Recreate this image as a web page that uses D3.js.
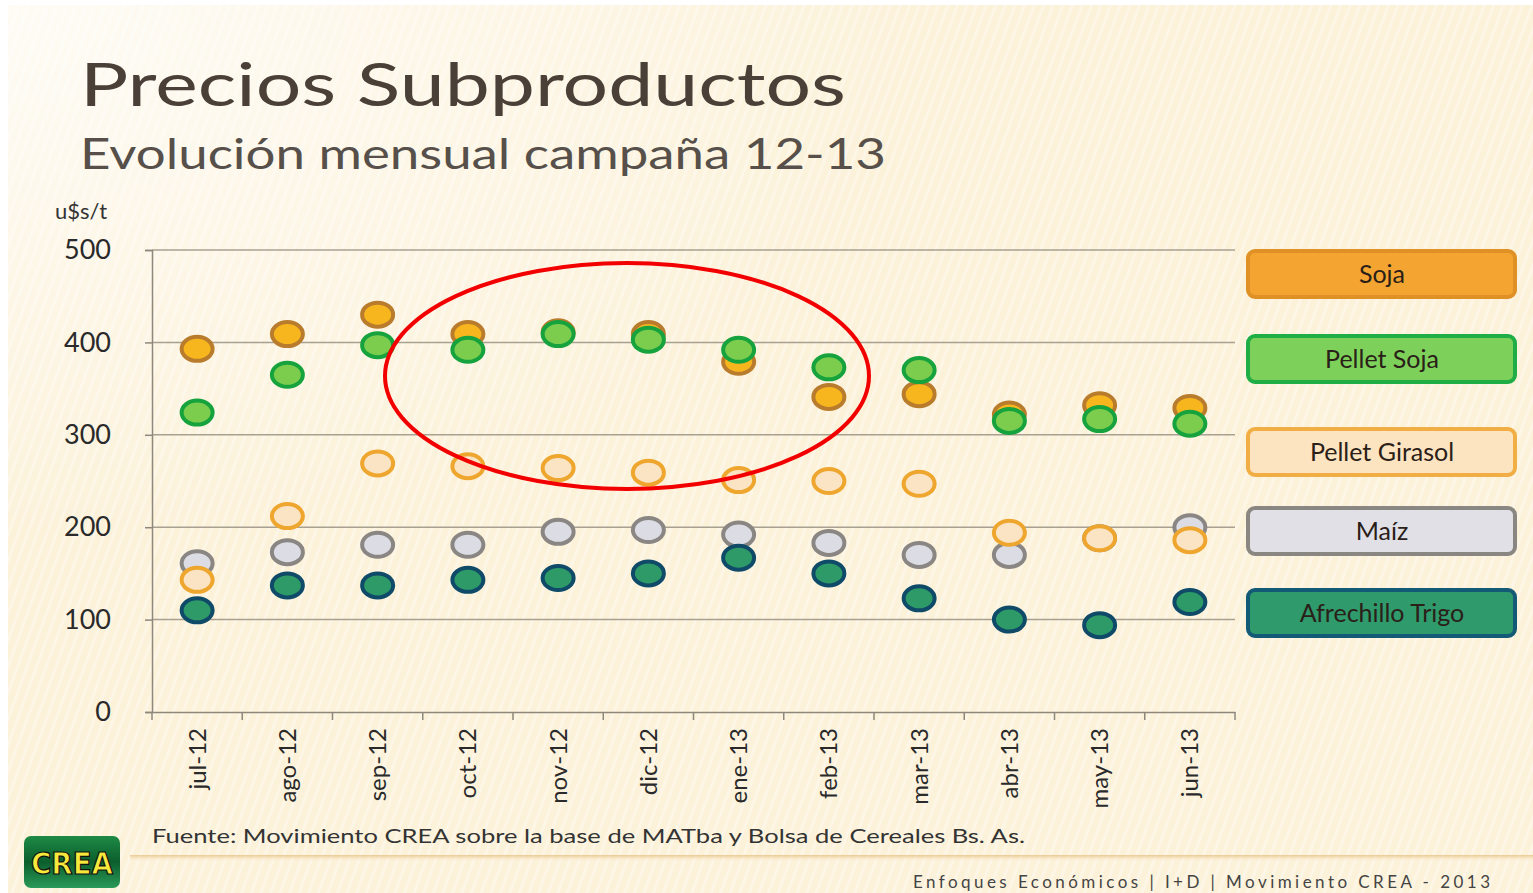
<!DOCTYPE html>
<html><head><meta charset="utf-8">
<script src="https://cdn.jsdelivr.net/npm/d3@7"></script>
<style>html,body{margin:0;padding:0;background:#fff;overflow:hidden}</style>
</head><body>
<script>
const months = ["jul-12","ago-12","sep-12","oct-12","nov-12","dic-12","ene-13","feb-13","mar-13","abr-13","may-13","jun-13"];
const yTicks = [0,100,200,300,400,500];
const seriesNames = ["Soja","Pellet Soja","Pellet Girasol","Maíz","Afrechillo Trigo"];
const soja          = [393,409,430,409,411,409,379,341,344,322,332,329];
const pelletSoja    = [324,365,397,392,409,403,392,373,370,315,317,312];
const pelletGirasol = [143,212,269,266,264,259,251,250,247,194,188,186];
const maiz          = [161,173,181,181,195,197,192,183,170,170,188,200];
const afrechillo    = [110,137,137,143,145,150,167,150,123,100, 94,119];

const W = 1533, H = 893;
const svg = d3.select("body").append("svg").attr("width", W).attr("height", H);
const defs = svg.append("defs");

// background
const pat = defs.append("pattern").attr("id","stripes").attr("patternUnits","userSpaceOnUse")
  .attr("width",9).attr("height",9).attr("patternTransform","rotate(20)");
pat.append("rect").attr("width",9).attr("height",9).attr("fill","#fcf2da");
pat.append("rect").attr("width",3).attr("height",9).attr("fill","#fdf6e6");
svg.append("rect").attr("width",W).attr("height",H).attr("fill","#fff");
svg.append("rect").attr("x",8).attr("y",5).attr("width",W-8).attr("height",H-5).attr("fill","url(#stripes)");
const fade = defs.append("radialGradient").attr("id","fade").attr("cx",0).attr("cy",0).attr("r",0.6);
fade.append("stop").attr("offset","0").attr("stop-color","#ffffff").attr("stop-opacity",0.75);
fade.append("stop").attr("offset","1").attr("stop-color","#ffffff").attr("stop-opacity",0);
svg.append("rect").attr("x",8).attr("y",5).attr("width",W-8).attr("height",H-5).attr("fill","url(#fade)");

// footer separator
const sep = defs.append("linearGradient").attr("id","sep").attr("x1",0).attr("x2",0).attr("y1",0).attr("y2",1);
sep.append("stop").attr("offset","0").attr("stop-color","#e9c58a").attr("stop-opacity",0.9);
sep.append("stop").attr("offset","1").attr("stop-color","#f7e6c6").attr("stop-opacity",0);
svg.append("rect").attr("x",130).attr("y",855).attr("width",W-130).attr("height",6).attr("fill","url(#sep)");

// titles
svg.append("text").attr("x",80).attr("y",106).text("Precios Subproductos")
  .attr("font-family","Lato, 'Open Sans', sans-serif").attr("font-size",60).attr("fill","#4a4038")
  .attr("textLength",766).attr("lengthAdjust","spacingAndGlyphs");
svg.append("text").attr("x",80).attr("y",169).text("Evolución mensual campaña 12-13")
  .attr("font-family","Lato, 'Open Sans', sans-serif").attr("font-size",42).attr("fill","#57504a")
  .attr("textLength",806).attr("lengthAdjust","spacingAndGlyphs");
svg.append("text").attr("x",55).attr("y",219).text("u$s/t")
  .attr("font-family","Lato, 'Open Sans', sans-serif").attr("font-size",22).attr("fill","#333");

// scales
const x = d3.scaleBand().domain(months).range([152,1235]);
const y = d3.scaleLinear().domain([0,500]).range([712,250]);

// gridlines
svg.append("g").selectAll("line").data(yTicks.filter(d=>d>0)).join("line")
  .attr("x1",152).attr("x2",1235).attr("y1",d=>y(d)).attr("y2",d=>y(d))
  .attr("stroke","#a8a090").attr("stroke-width",1.5);

// y axis
const yAxis = svg.append("g").attr("transform","translate(152,0)")
  .call(d3.axisLeft(y).tickValues(yTicks).tickSize(7).tickPadding(34));
yAxis.select(".domain").attr("stroke","#8e877b").attr("stroke-width",1.5);
yAxis.selectAll(".tick line").attr("stroke","#8e877b").attr("stroke-width",1.5);
yAxis.selectAll("text").attr("font-family","Lato, 'Open Sans', sans-serif").attr("font-size",27).attr("fill","#2a2a2a");

// x axis
const xAxis = svg.append("g").attr("transform","translate(0,712)")
  .call(d3.axisBottom(x).tickSize(0).tickPadding(14));
xAxis.select(".domain").attr("stroke","#8e877b").attr("stroke-width",1.5);
xAxis.selectAll("text").attr("font-family","Lato, 'Open Sans', sans-serif").attr("font-size",24).attr("fill","#2a2a2a")
  .attr("transform","rotate(-90)").attr("text-anchor","end").attr("dy","0.35em").attr("x",-16).attr("y",0);
// boundary ticks
svg.append("g").selectAll("line").data(months.concat(["end"])).join("line")
  .attr("x1",(d,i)=> i<months.length ? x(d) : x.range()[1])
  .attr("x2",(d,i)=> i<months.length ? x(d) : x.range()[1])
  .attr("y1",712).attr("y2",720).attr("stroke","#8e877b").attr("stroke-width",1.5);

// series styles (draw order: maíz, afrechillo, girasol, soja, pellet soja)
const styles = {
  "Soja":            {data: soja,          fill:"#f8b61e", stroke:"#b97c2c"},
  "Pellet Soja":     {data: pelletSoja,    fill:"#7ccd4e", stroke:"#16a23c"},
  "Pellet Girasol":  {data: pelletGirasol, fill:"#fbe4c4", stroke:"#eea62e"},
  "Maíz":            {data: maiz,          fill:"#dcdce4", stroke:"#8a8683"},
  "Afrechillo Trigo":{data: afrechillo,    fill:"#2e9a68", stroke:"#0f4a68"}
};
const drawOrder = ["Maíz","Afrechillo Trigo","Pellet Girasol","Soja","Pellet Soja"];
drawOrder.forEach(name=>{
  const s = styles[name];
  svg.append("g").selectAll("ellipse").data(s.data).join("ellipse")
    .attr("cx",(d,i)=>x(months[i])+x.bandwidth()/2)
    .attr("cy",d=>y(d))
    .attr("rx",15.5).attr("ry",12)
    .attr("fill",s.fill).attr("stroke",s.stroke).attr("stroke-width",4);
});

// legend
const legendBoxes = [
  {name:"Soja", y:251, fill:"#f4a531", stroke:"#df9126"},
  {name:"Pellet Soja", y:336, fill:"#7dd15a", stroke:"#1fae46"},
  {name:"Pellet Girasol", y:429, fill:"#fde4c0", stroke:"#f1ae45"},
  {name:"Maíz", y:508, fill:"#e0e0e6", stroke:"#8a8782"},
  {name:"Afrechillo Trigo", y:590, fill:"#2f9a6c", stroke:"#135a76"}
];
const lg = svg.append("g").selectAll("g").data(legendBoxes).join("g");
lg.append("rect").attr("x",1248).attr("y",d=>d.y).attr("width",267).attr("height",46).attr("rx",7)
  .attr("fill",d=>d.fill).attr("stroke",d=>d.stroke).attr("stroke-width",4);
lg.append("text").attr("x",1382).attr("y",d=>d.y+32).attr("text-anchor","middle").text(d=>d.name)
  .attr("font-family","Lato, 'Open Sans', sans-serif").attr("font-size",25).attr("fill","#2a2018");

// red ellipse
svg.append("ellipse").attr("cx",627).attr("cy",376).attr("rx",242).attr("ry",113)
  .attr("fill","none").attr("stroke","#f20000").attr("stroke-width",4);

// source
svg.append("text").attr("x",152).attr("y",843).text("Fuente: Movimiento CREA sobre la base de MATba y Bolsa de Cereales Bs. As.")
  .attr("font-family","Lato, 'Open Sans', sans-serif").attr("font-size",19).attr("fill","#333")
  .attr("textLength",873).attr("lengthAdjust","spacingAndGlyphs");
svg.append("text").attr("x",913).attr("y",888).text("Enfoques Económicos | I+D | Movimiento CREA - 2013")
  .attr("font-family","Lato, 'Open Sans', sans-serif").attr("font-size",17).attr("fill","#444")
  .attr("textLength",577).attr("lengthAdjust","spacing");

// CREA logo
const lgGrad = defs.append("linearGradient").attr("id","logo").attr("x1",0).attr("x2",0).attr("y1",0).attr("y2",1);
lgGrad.append("stop").attr("offset","0").attr("stop-color","#1d8a45");
lgGrad.append("stop").attr("offset","0.5").attr("stop-color","#0c5e2c");
lgGrad.append("stop").attr("offset","1").attr("stop-color","#2a9a58");
svg.append("rect").attr("x",24).attr("y",836).attr("width",96).attr("height",52).attr("rx",7).attr("fill","url(#logo)");
svg.append("text").attr("x",72).attr("y",874).attr("text-anchor","middle").text("CREA")
  .attr("font-family","'DejaVu Sans Condensed', 'Liberation Sans Narrow', sans-serif").attr("font-weight","bold")
  .attr("font-size",30).attr("fill","#f6e93c").attr("stroke","#111").attr("stroke-width",1.2)
  .attr("textLength",82).attr("lengthAdjust","spacingAndGlyphs");
</script>
</body></html>
